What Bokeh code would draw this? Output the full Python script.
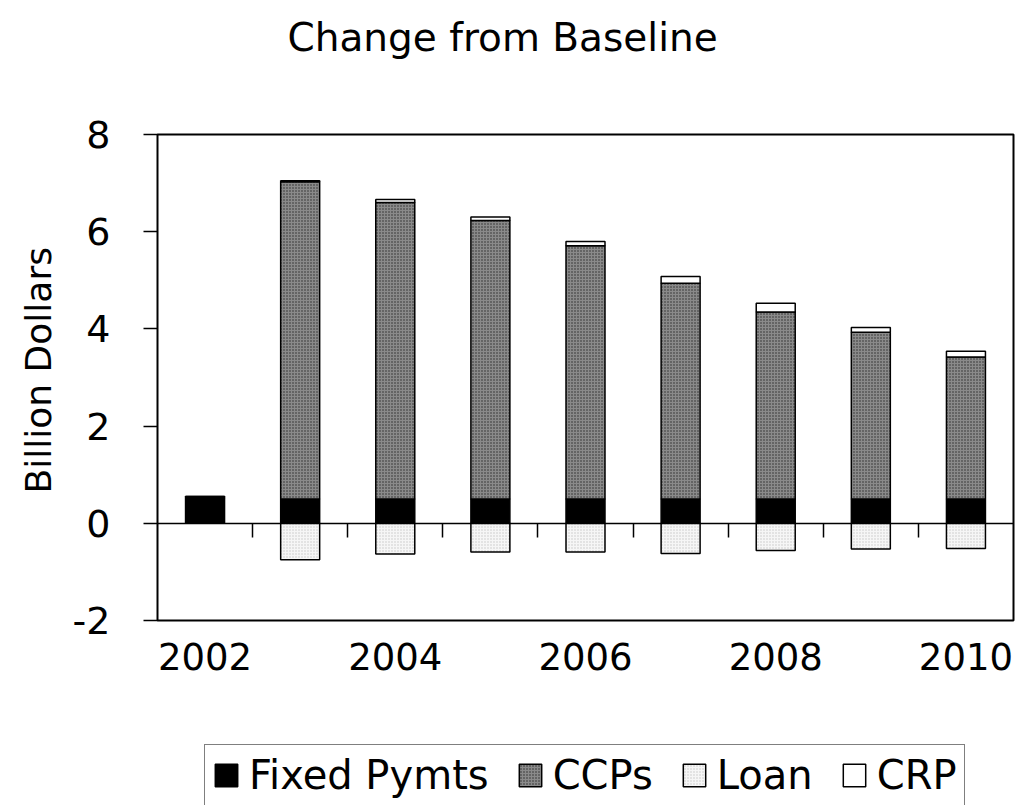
import math
from bokeh.plotting import figure
from bokeh.models import (Range1d, LinearAxis, FixedTicker, Legend, LegendItem,
                          ColumnDataSource, BoxAnnotation, Label)
from bokeh.embed import file_html
from bokeh.resources import INLINE

# ---- data ----
years = [2002, 2003, 2004, 2005, 2006, 2007, 2008, 2009, 2010]
fixed = [0.52, 0.50, 0.50, 0.50, 0.50, 0.50, 0.50, 0.50, 0.50]
ccps = [0.03, 6.53, 6.10, 5.73, 5.21, 4.44, 3.85, 3.43, 2.92]
crp = [0.00, 0.02, 0.06, 0.07, 0.09, 0.14, 0.18, 0.10, 0.12]
loan = [0.00, -0.75, -0.63, -0.59, -0.59, -0.62, -0.56, -0.53, -0.52]
label_years = [2002, 2004, 2006, 2008, 2010]
y_ticks = [-2, 0, 2, 4, 6, 8]
y_tick_labels = ["-2", "0", "2", "4", "6", "8"]
grid_ticks = [2, 4, 6, 8]
series_names = ["Fixed Pymts", "CCPs", "Loan", "CRP"]
title_text = "Change from Baseline"
y_label = "Billion Dollars"

FONT = "DejaVu Sans"

# ---- layout (pixels) ----
WIDTH, HEIGHT = 1028, 805
BOX_L, BOX_R, BOX_T, BOX_B = 157, 1013, 134, 620   # chart box on the page
PAD = 2                                            # keep right edge inside the frame
x0, x1 = years[0] - 0.5, years[-1] + 0.5
y0, y1 = y_ticks[0], y_ticks[-1]
px_x = (BOX_R - BOX_L) / (x1 - x0)
px_y = (BOX_B - BOX_T) / (y1 - y0)
x_range = Range1d(x0 - BOX_L / px_x, x1 + PAD / px_x)
y_range = Range1d(y0 - (HEIGHT - BOX_B) / px_y, y1 + BOX_T / px_y)

src = ColumnDataSource(dict(year=years, fixed=fixed, ccps=ccps, crp=crp, loan=loan))

p = figure(width=WIDTH, height=HEIGHT, output_backend="svg", toolbar_location=None,
           title=None, x_range=x_range, y_range=y_range,
           min_border_left=0, min_border_right=WIDTH - BOX_R - PAD,
           min_border_top=0, min_border_bottom=0,
           x_axis_type=None, y_axis_type=None)
p.background_fill_color = "white"
p.border_fill_color = "white"
p.outline_line_color = None

# title
p.add_layout(Label(x=287, y=HEIGHT - 37, x_units="screen", y_units="screen",
                   text=title_text, text_font=FONT, text_font_size="39px",
                   text_color="black", text_align="left", text_baseline="middle"))

# grid (only inside the chart box)
p.ygrid.ticker = FixedTicker(ticks=grid_ticks)
p.ygrid.bounds = (x0, x1)
p.ygrid.grid_line_color = "black"
p.ygrid.grid_line_width = 1.5
p.xgrid.grid_line_color = None

# chart box
p.add_layout(BoxAnnotation(left=x0, right=x1, bottom=y0, top=y1,
                           fill_alpha=0, line_color="black", line_alpha=1,
                           line_width=2))

# y axis on the left edge of the box
yaxis = LinearAxis(ticker=FixedTicker(ticks=y_ticks), fixed_location=x0)
yaxis.major_label_overrides = {t: s for t, s in zip(y_ticks, y_tick_labels)}
yaxis.axis_line_color = None
yaxis.major_tick_out = 14
yaxis.major_tick_in = 0
yaxis.major_tick_line_width = 1.5
yaxis.minor_tick_line_color = None
yaxis.major_label_text_font = FONT
yaxis.major_label_text_font_size = "38px"
yaxis.major_label_text_color = "black"
yaxis.major_label_standoff = 33
p.add_layout(yaxis, "left")

# y axis title
p.add_layout(Label(x=38, y=(y0 + y1) / 2 + 0.15, x_units="screen", y_units="data",
                   text=y_label, angle=math.pi / 2, text_font=FONT,
                   text_font_size="36px", text_color="black",
                   text_align="center", text_baseline="middle"))

# x labels under the chart box
xaxis = LinearAxis(ticker=FixedTicker(ticks=label_years), fixed_location=y0)
xaxis.axis_line_color = None
xaxis.major_tick_line_color = None
xaxis.major_tick_out = 0
xaxis.minor_tick_line_color = None
xaxis.major_label_text_font = FONT
xaxis.major_label_text_font_size = "37px"
xaxis.major_label_text_color = "black"
xaxis.major_label_standoff = 22
p.add_layout(xaxis, "below")

# zero axis with ticks at category boundaries
boundaries = [y + 0.5 for y in years[:-1]]
zaxis = LinearAxis(ticker=FixedTicker(ticks=boundaries), fixed_location=0,
                   bounds=(x0, x1))
zaxis.axis_line_color = "black"
zaxis.axis_line_width = 1.5
zaxis.major_tick_out = 14
zaxis.major_tick_in = 0
zaxis.major_tick_line_width = 1.5
zaxis.minor_tick_line_color = None
zaxis.major_label_overrides = {b: "" for b in boundaries}
zaxis.major_label_text_font_size = "0px"
p.add_layout(zaxis, "below")

W = 0.41
CCP_FILL = "#8a8a8a"
rs = p.vbar_stack(["fixed", "ccps", "crp"], x="year", width=W, source=src,
                  line_color="black", line_width=1.5,
                  fill_color=["black", CCP_FILL, "white"])
r_fixed, r_ccp, r_crp = rs
r_ccp.glyph.hatch_pattern = "dot"
r_ccp.glyph.hatch_color = "#2a2a2a"
r_ccp.glyph.hatch_scale = 3
r_ccp.glyph.hatch_weight = 1

r_loan = p.vbar(x="year", top=0, bottom="loan", width=W, source=src,
                line_color="black", line_width=1.5, fill_color="#f6f6f6",
                hatch_pattern="dot", hatch_color="#c4c4c4", hatch_scale=3,
                hatch_weight=1)

legend = Legend(items=[LegendItem(label=series_names[0], renderers=[r_fixed]),
                       LegendItem(label=series_names[1], renderers=[r_ccp]),
                       LegendItem(label=series_names[2], renderers=[r_loan]),
                       LegendItem(label=series_names[3], renderers=[r_crp])],
                orientation="horizontal", location=(204, -1))
legend.label_text_font = FONT
legend.label_text_font_size = "40px"
legend.label_text_color = "black"
legend.glyph_width = 28
legend.glyph_height = 28
legend.label_standoff = 9
legend.spacing = 27
legend.padding = 7
legend.margin = 0
legend.border_line_color = "black"
legend.border_line_width = 1.5
legend.background_fill_color = "white"
legend.background_fill_alpha = 1
p.add_layout(legend, "center")

open("out.html", "w").write(file_html(p, INLINE))
